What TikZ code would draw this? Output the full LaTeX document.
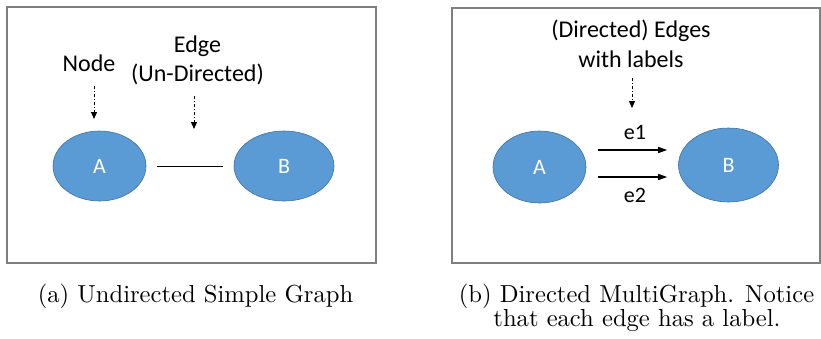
\documentclass[tikz,border=0pt]{standalone}
\usepackage{fontspec}
\newfontfamily\diagfont{Carlito}
\newfontfamily\capfont{lmroman10-regular.otf}
\usetikzlibrary{shapes.geometric,arrows.meta}

\definecolor{nodeblue}{HTML}{5B9BD5}
\definecolor{nodeedge}{HTML}{41719C}
\definecolor{framegray}{HTML}{7F7F7F}

\tikzset{
  panel/.style={draw=framegray, line width=1.5pt},
  vertex/.style={ellipse, fill=nodeblue, draw=nodeedge, line width=0.6pt,
    inner sep=0pt, text=white, font=\diagfont\fontsize{22}{26}\selectfont},
  note/.style={anchor=base, inner sep=0pt, font=\diagfont\fontsize{24}{28}\selectfont},
  edgelbl/.style={anchor=base, inner sep=0pt, font=\diagfont\fontsize{22}{26}\selectfont},
  pointer/.style={line width=1pt, dash pattern=on 3pt off 2pt on 1pt off 2pt,
    -{Triangle[length=7pt,width=6pt]}},
  plainedge/.style={line width=1pt},
  arcedge/.style={line width=1.1pt, -{Triangle[length=9pt,width=6pt]}},
  caption/.style={anchor=base, inner sep=0pt, font=\capfont\fontsize{24.6}{24}\selectfont}
}

\begin{document}
\begin{tikzpicture}[x=1pt, y=-1pt]
  \useasboundingbox (0,0) rectangle (821,338);

  % panel frames
  \draw[panel] (7,7) rectangle (376,263);
  \draw[panel] (452,8) rectangle (820,263);

  % (a) undirected simple graph
  \node[vertex, minimum width=93pt, minimum height=70pt] (a1) at (99.5,166) {A};
  \node[vertex, minimum width=100pt, minimum height=70pt] (b1) at (284,166) {B};
  \draw[plainedge, shorten <=11pt, shorten >=11pt] (a1) -- (b1);

  \node[note] (nodelbl) at (89,71) {Node};
  \node[note] (edgelbl1) at (197.5,52) {Edge};
  \node[note] (edgelbl2) at (197.5,81) {(Un-Directed)};

  \coordinate (p1s) at (94,86);
  \coordinate (p1e) at (94,119);
  \coordinate (p2s) at (194,96);
  \coordinate (p2e) at (194,129);
  \draw[pointer] (p1s) -- (p1e);
  \draw[pointer] (p2s) -- (p2e);

  % (b) directed multigraph
  \node[vertex, minimum width=93pt, minimum height=72pt] (a2) at (539.5,167) {A};
  \node[vertex, minimum width=100pt, minimum height=74pt] (b2) at (728.5,165) {B};
  \draw[arcedge] ([shift={(12,-17)}]a2.east) -- ([shift={(-11,-15)}]b2.west);
  \draw[arcedge] ([shift={(12,10)}]a2.east) -- ([shift={(-11,12)}]b2.west);
  \node[edgelbl] (e1) at (635,139) {e1};
  \node[edgelbl] (e2) at (635,202) {e2};

  \node[note] (dirlbl1) at (631,37) {(Directed) Edges};
  \node[note] (dirlbl2) at (631,67) {with labels};
  \coordinate (p3s) at (632,78);
  \coordinate (p3e) at (632,108);
  \draw[pointer] (p3s) -- (p3e);

  % captions
  \node[caption] (capa) at (195.5,302) {(a) Undirected Simple Graph};
  \node[caption] (capb1) at (636.5,302) {(b) Directed MultiGraph. Notice};
  \node[caption] (capb2) at (637,326) {that each edge has a label.};
\end{tikzpicture}
\end{document}
